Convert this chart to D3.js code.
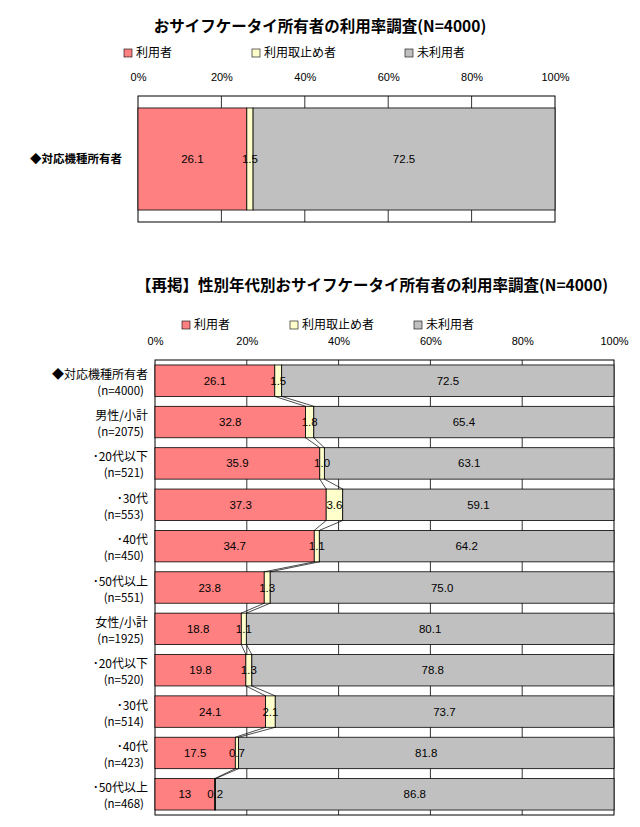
<!DOCTYPE html>
<html lang="ja">
<head>
<meta charset="UTF-8">
<script src="https://d3js.org/d3.v7.min.js"></script>
<style>
  body { margin: 0; background: #fff; font-family: "Noto Sans CJK JP", sans-serif; }
</style>
</head>
<body>
<svg width="640" height="827"></svg>
<script>
// data
const seriesNames = ["利用者", "利用取止め者", "未利用者"];
const colors = ["#ff8080", "#ffffcc", "#c0c0c0"];
const topCategories = ["◆対応機種所有者"];
const topUsers = [26.1], topStopped = [1.5], topNon = [72.5];

const cats = ["◆対応機種所有者", "男性/小計", "･20代以下", "･30代", "･40代", "･50代以上",
              "女性/小計", "･20代以下", "･30代", "･40代", "･50代以上"];
const counts = ["(n=4000)", "(n=2075)", "(n=521)", "(n=553)", "(n=450)", "(n=551)",
                "(n=1925)", "(n=520)", "(n=514)", "(n=423)", "(n=468)"];
const users   = [26.1, 32.8, 35.9, 37.3, 34.7, 23.8, 18.8, 19.8, 24.1, 17.5, 13];
const stopped = [1.5, 1.8, 1.0, 3.6, 1.1, 1.3, 1.1, 1.3, 2.1, 0.7, 0.2];
const nonUsers = [72.5, 65.4, 63.1, 59.1, 64.2, 75.0, 80.1, 78.8, 73.7, 81.8, 86.8];
const ticks = [0, 20, 40, 60, 80, 100];

const svg = d3.select("svg");
const fmt = v => (v === 13 ? "13" : v.toFixed(1));

function drawChart(o) {
  const x = d3.scaleLinear().domain([0, 100]).range([o.x0, o.x1]);
  const y = d3.scaleBand().domain(d3.range(o.cats.length)).range([o.y0, o.y1]).paddingInner(o.pad).paddingOuter(o.pad / 2);

  svg.append("text").attr("x", o.titleX).attr("y", o.titleY).attr("text-anchor", "middle")
    .attr("font-size", 15.5).attr("font-weight", "bold").text(o.title);

  // legend
  seriesNames.forEach((s, i) => {
    const lx = o.legendX[i];
    svg.append("rect").attr("x", lx).attr("y", o.legendY - 8).attr("width", 8).attr("height", 8)
      .attr("fill", colors[i]).attr("stroke", "#000").attr("stroke-width", 0.6);
    svg.append("text").attr("x", lx + 12).attr("y", o.legendY).attr("font-size", 12).text(s);
  });

  // tick labels above
  svg.append("g").attr("transform", `translate(0,${o.tickY})`)
    .call(d3.axisTop(x).tickValues(ticks).tickFormat(d => d + "%").tickSize(0))
    .call(g => g.select(".domain").remove())
    .call(g => g.selectAll("text").attr("font-size", 11).attr("font-family", "Liberation Sans Narrow, Liberation Sans, sans-serif"));

  // frame and grid
  svg.append("rect").attr("x", o.x0).attr("y", o.y0).attr("width", o.x1 - o.x0).attr("height", o.y1 - o.y0)
    .attr("fill", "none").attr("stroke", "#000");
  svg.append("g").selectAll("line").data(ticks.slice(1, -1)).join("line")
    .attr("x1", d => x(d)).attr("x2", d => x(d)).attr("y1", o.y0).attr("y2", o.y1)
    .attr("stroke", "#000").attr("stroke-width", 0.8);

  const rows = o.cats.map((c, i) => {
    const v = [o.u[i], o.s[i], o.n[i]];
    let acc = 0;
    return v.map((val, k) => { const r = { i, k, val, a: acc, b: acc + val }; acc += val; return r; });
  });

  svg.append("g").selectAll("rect").data(rows.flat()).join("rect")
    .attr("x", d => x(d.a)).attr("width", d => x(Math.min(d.b, 100)) - x(d.a))
    .attr("y", d => y(d.i)).attr("height", y.bandwidth())
    .attr("fill", d => colors[d.k]).attr("stroke", "#000").attr("stroke-width", 0.8);

  // series lines between bars
  if (o.lines) {
    for (let i = 0; i < rows.length - 1; i++) {
      [0, 1].forEach(k => {
        svg.append("line")
          .attr("x1", x(rows[i][k].b)).attr("y1", y(i) + y.bandwidth())
          .attr("x2", x(rows[i + 1][k].b)).attr("y2", y(i + 1))
          .attr("stroke", "#000").attr("stroke-width", 0.7);
      });
    }
  }

  svg.append("g").selectAll("text").data(rows.flat()).join("text")
    .attr("x", d => x((d.a + Math.min(d.b, 100)) / 2)).attr("y", d => y(d.i) + y.bandwidth() / 2 + 4)
    .attr("text-anchor", "middle").attr("font-size", 11.5)
    .attr("font-family", "Liberation Sans Narrow, Liberation Sans, sans-serif")
    .text(d => fmt(d.val));

  // category labels
  o.cats.forEach((c, i) => {
    const cy = y(i) + y.bandwidth() / 2;
    if (o.counts) {
      svg.append("text").attr("x", o.labelX).attr("y", cy - 2).attr("text-anchor", "end").attr("font-size", 12).text(c);
      svg.append("text").attr("x", o.labelX - 4).attr("y", cy + 14).attr("text-anchor", "end").attr("font-size", 11.5).text(o.counts[i]);
    } else {
      svg.append("text").attr("x", o.labelX).attr("y", cy + 4).attr("text-anchor", "end")
        .attr("font-size", 11.5).attr("font-weight", "bold").text(c);
    }
  });
}

drawChart({
  title: "おサイフケータイ所有者の利用率調査(N=4000)", titleX: 320, titleY: 32,
  legendX: [124, 252, 405], legendY: 57, tickY: 84,
  x0: 138, x1: 555, y0: 96, y1: 222, pad: 0.19,
  cats: topCategories, u: topUsers, s: topStopped, n: topNon, labelX: 122, lines: false
});

drawChart({
  title: "【再掲】性別年代別おサイフケータイ所有者の利用率調査(N=4000)", titleX: 372, titleY: 291,
  legendX: [182, 290, 414], legendY: 329, tickY: 348,
  x0: 155, x1: 614, y0: 360, y1: 815, pad: 0.24,
  cats: cats, counts: counts, u: users, s: stopped, n: nonUsers, labelX: 148, lines: true
});
</script>
</body>
</html>
